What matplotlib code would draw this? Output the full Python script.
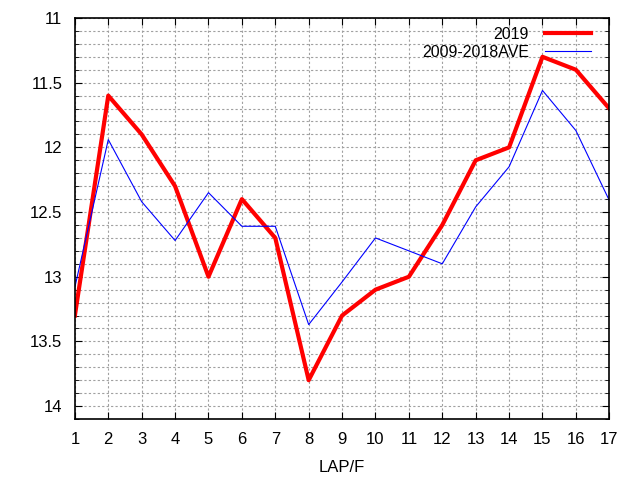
import matplotlib
matplotlib.use('Agg')
import matplotlib.pyplot as plt
from matplotlib.ticker import MultipleLocator

laps = list(range(1, 18))
y2019 = [13.3, 11.6, 11.9, 12.3, 13.0, 12.4, 12.7, 13.8, 13.3, 13.1, 13.0, 12.6, 12.1, 12.0, 11.3, 11.4, 11.7]
yave = [13.08, 11.94, 12.42, 12.72, 12.35, 12.61, 12.61, 13.37, 13.04, 12.70, 12.80, 12.90, 12.46, 12.15, 11.56, 11.87, 12.41]


def main():
    plt.rcParams['font.family'] = ['Liberation Sans', 'DejaVu Sans']
    fig = plt.figure(figsize=(6.4, 4.8), dpi=100)
    ax = fig.add_axes([0.117, 0.127, 0.835, 0.8355])

    ax.plot(laps, y2019, color='red', linewidth=3, label='2019')
    ax.plot(laps, yave, color='blue', linewidth=0.8, label='2009-2018AVE')

    ax.set_xlim(1, 17)
    ax.set_ylim(14.1, 11)
    ax.xaxis.set_major_locator(MultipleLocator(1))
    ax.yaxis.set_major_locator(MultipleLocator(0.5))
    ax.yaxis.set_minor_locator(MultipleLocator(0.1))
    ax.yaxis.set_major_formatter(plt.FuncFormatter(lambda v, p: '%g' % v))

    ax.grid(True, which='both', color='#a0a0a0', linestyle=(0, (2, 2)), linewidth=0.8)
    ax.tick_params(which='both', direction='in', top=True, right=True, labelsize=12)
    ax.tick_params(which='major', length=5, pad=9)
    ax.tick_params(which='minor', length=3)
    for s in ax.spines.values():
        s.set_linewidth(1.2)

    ax.set_xlabel('LAP/F', fontsize=12, labelpad=10)
    leg = ax.legend(loc='upper right', bbox_to_anchor=(0.978, 0.9935), frameon=False,
                    markerfirst=False, fontsize=11.5, handlelength=2.9, handletextpad=1.0,
                    borderaxespad=0, labelspacing=0.17)
    for col in leg._legend_handle_box.get_children():
        col.align = 'right'

    plt.savefig('out.png', dpi=100)


if __name__ == '__main__':
    main()
